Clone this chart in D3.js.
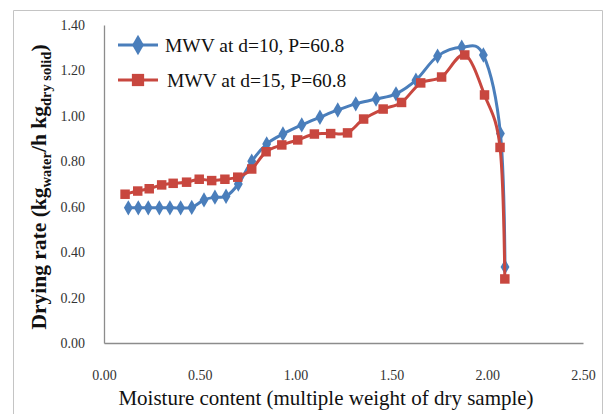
<!DOCTYPE html>
<html>
<head>
<meta charset="utf-8">
<script src="https://cdn.jsdelivr.net/npm/d3@7"></script>
<style>
  html, body { margin: 0; padding: 0; background: #fff; }
  svg { display: block; }
</style>
</head>
<body>
<svg id="chart" width="605" height="414"></svg>
<script>
// ---- data ----
const seriesNames = ["MWV at d=10, P=60.8", "MWV at d=15, P=60.8"];
const moistureA = [0.127,0.179,0.231,0.289,0.344,0.400,0.458,0.522,0.579,0.637,0.701,0.771,0.849,0.934,1.032,1.127,1.220,1.314,1.420,1.524,1.628,1.741,1.867,1.980,2.069,2.093];
const rateA     = [0.595,0.595,0.595,0.595,0.595,0.595,0.597,0.630,0.642,0.646,0.700,0.800,0.876,0.920,0.960,0.994,1.026,1.053,1.074,1.097,1.157,1.263,1.302,1.268,0.922,0.335];
const moistureB = [0.110,0.176,0.236,0.301,0.361,0.431,0.497,0.562,0.631,0.698,0.771,0.846,0.928,1.011,1.098,1.183,1.271,1.355,1.457,1.553,1.653,1.762,1.883,1.986,2.067,2.092];
const rateB     = [0.655,0.669,0.679,0.696,0.703,0.708,0.721,0.715,0.721,0.730,0.766,0.842,0.872,0.894,0.920,0.922,0.925,0.986,1.030,1.059,1.145,1.171,1.268,1.092,0.861,0.282];
const xTicks = [0, 0.5, 1.0, 1.5, 2.0, 2.5];
const yTicks = [0, 0.2, 0.4, 0.6, 0.8, 1.0, 1.2, 1.4];

// ---- setup ----
const svg = d3.select("#chart");
const blue = "#4a7ebb", red = "#c8473f";
const serif = "'Liberation Serif', 'Times New Roman', serif";

const x = d3.scaleLinear().domain([0, 2.5]).range([104, 583]);
const y = d3.scaleLinear().domain([0, 1.4]).range([343, 25]);

// outer frame
svg.append("path")
  .attr("d", "M13.5,414 L13.5,10.5 L602.5,10.5 L602.5,414")
  .attr("fill", "none").attr("stroke", "#c4c4c4").attr("stroke-width", 1);

// axes
const yAxis = svg.append("g").attr("transform", `translate(${x(0)},0)`)
  .call(d3.axisLeft(y).tickValues(yTicks).tickSize(0).tickPadding(19).tickFormat(d => d.toFixed(2)));
const xAxis = svg.append("g").attr("transform", `translate(0,${y(0)})`)
  .call(d3.axisBottom(x).tickValues(xTicks).tickSize(0).tickPadding(27).tickFormat(d => d.toFixed(2)));
[yAxis, xAxis].forEach(g => {
  g.select(".domain").attr("stroke", "#8c8c8c").attr("stroke-width", 1.3);
  g.selectAll("text").attr("font-family", serif).attr("font-size", 14).attr("fill", "#333");
});

// axis titles
svg.append("text")
  .attr("x", 326).attr("y", 405)
  .attr("text-anchor", "middle")
  .attr("font-family", serif).attr("font-size", 21).attr("fill", "#111")
  .text("Moisture content (multiple weight of dry sample)");

const yt = svg.append("text")
  .attr("transform", "translate(46,187) rotate(-90)")
  .attr("text-anchor", "middle")
  .attr("font-family", serif).attr("font-size", 21.5).attr("font-weight", "bold").attr("fill", "#111");
yt.append("tspan").text("Drying rate (kg");
yt.append("tspan").attr("font-size", 14.5).attr("dy", 5).text("water");
yt.append("tspan").attr("dy", -5).text("/h kg");
yt.append("tspan").attr("font-size", 14.5).attr("dy", 5).text("dry solid");
yt.append("tspan").attr("dy", -5).text(")");

// series
const line = d3.line().x(d => x(d[0])).y(d => y(d[1])).curve(d3.curveCardinal.tension(0));
const dataA = moistureA.map((m, i) => [m, rateA[i]]);
const dataB = moistureB.map((m, i) => [m, rateB[i]]);

const diamond = d3.symbol().type(d3.symbolDiamond).size(68);
const square = d3.symbol().type(d3.symbolSquare).size(90);

svg.append("path").datum(dataA).attr("d", line)
  .attr("fill", "none").attr("stroke", blue).attr("stroke-width", 3);
svg.append("g").selectAll("path").data(dataA).join("path")
  .attr("transform", d => `translate(${x(d[0])},${y(d[1])})`)
  .attr("d", diamond).attr("fill", blue);

svg.append("path").datum(dataB).attr("d", line)
  .attr("fill", "none").attr("stroke", red).attr("stroke-width", 3);
svg.append("g").selectAll("path").data(dataB).join("path")
  .attr("transform", d => `translate(${x(d[0])},${y(d[1])})`)
  .attr("d", square).attr("fill", red);

// legend
const legend = [
  { name: seriesNames[0], color: blue, sym: d3.symbol().type(d3.symbolDiamond).size(120), ly: 45, tx: 165 },
  { name: seriesNames[1], color: red, sym: d3.symbol().type(d3.symbolSquare).size(150), ly: 80, tx: 167 }
];
const lg = svg.append("g").selectAll("g").data(legend).join("g");
lg.append("line").attr("x1", 118).attr("x2", 158).attr("y1", d => d.ly).attr("y2", d => d.ly)
  .attr("stroke", d => d.color).attr("stroke-width", 3);
lg.append("path").attr("transform", d => `translate(138,${d.ly})`).attr("d", d => d.sym()).attr("fill", d => d.color);
lg.append("text").attr("x", d => d.tx).attr("y", d => d.ly + 7)
  .attr("font-family", serif).attr("font-size", 19.5).attr("fill", "#111")
  .text(d => d.name);
</script>
</body>
</html>
